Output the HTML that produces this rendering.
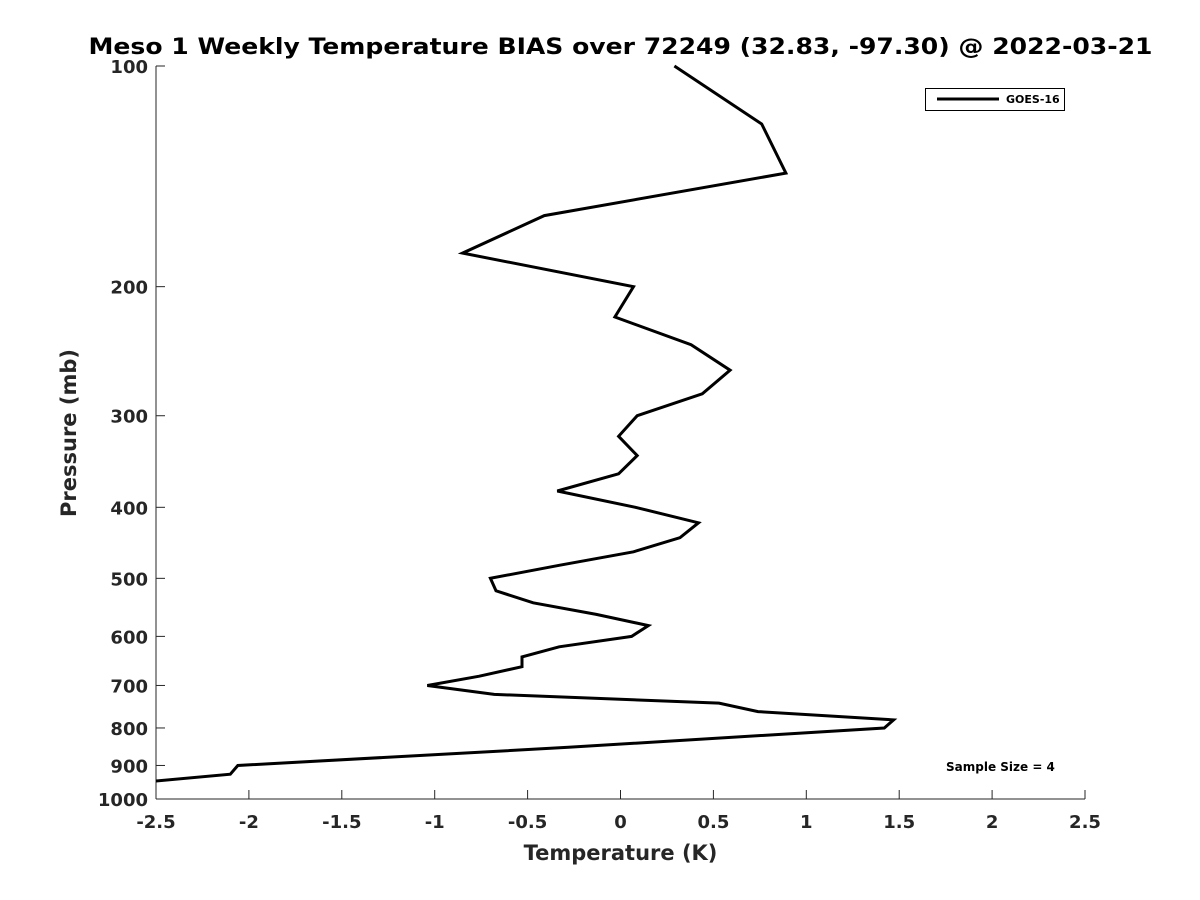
<!DOCTYPE html>
<html><head><meta charset="utf-8"><style>
body{margin:0;background:#fff}
svg{display:block;font-family:"DejaVu Sans","Liberation Sans",sans-serif;font-weight:bold}
</style></head><body>
<svg id="chart" width="1200" height="900">
<text x="620.5" y="54" text-anchor="middle" font-size="22" textLength="1064" lengthAdjust="spacingAndGlyphs" fill="#000">Meso 1 Weekly Temperature BIAS over 72249 (32.83, -97.30) @ 2022-03-21</text>
<g id="axes"></g>
<g id="series"></g>
<text x="620.5" y="860" text-anchor="middle" font-size="21" fill="#262626">Temperature (K)</text>
<text transform="translate(76,433) rotate(-90)" text-anchor="middle" font-size="21" fill="#262626">Pressure (mb)</text>
<g>
<rect x="925.5" y="88.5" width="139" height="22" fill="#fff" stroke="#000" stroke-width="1"/>
<line x1="937" y1="99" x2="999" y2="99" stroke="#000" stroke-width="3"/>
<text x="1006" y="103" font-size="11" fill="#000">GOES-16</text>
</g>
<text x="946" y="771" font-size="12" fill="#000">Sample Size = 4</text>
</svg>
<script>
const pressures=[100,120,140,160,180,200,220,240,260,280,300,320,340,360,380,400,420,440,460,480,500,520,540,560,580,600,620,640,660,680,700,720,740,760,780,800,850,900,925,950];
const bias=[0.29,0.76,0.89,-0.41,-0.85,0.07,-0.03,0.38,0.59,0.44,0.09,-0.01,0.09,-0.01,-0.34,0.08,0.42,0.32,0.07,-0.33,-0.70,-0.67,-0.47,-0.13,0.15,0.06,-0.33,-0.53,-0.53,-0.76,-1.04,-0.68,0.53,0.74,1.47,1.42,-0.28,-2.06,-2.10,-2.60];
const xTicks=[-2.5,-2,-1.5,-1,-0.5,0,0.5,1,1.5,2,2.5];
const xTickLabels=["-2.5","-2","-1.5","-1","-0.5","0","0.5","1","1.5","2","2.5"];
const yTicks=[100,200,300,400,500,600,700,800,900,1000];
const yTickLabels=["100","200","300","400","500","600","700","800","900","1000"];
const L=156,R=1085,T=66,B=799;
const xs=v=>L+(v+2.5)/5*(R-L);
const ys=p=>T+Math.log10(p/100)*(B-T);
const NS="http://www.w3.org/2000/svg";
const ax=document.getElementById('axes');
function mk(tag,attrs,parent){const e=document.createElementNS(NS,tag);for(const k in attrs)e.setAttribute(k,attrs[k]);parent.appendChild(e);return e;}
const yl=mk('line',{x1:L,y1:T,x2:L,y2:B,stroke:'#262626','stroke-width':1},ax);


const xl=mk('line',{x1:L,y1:B,x2:R,y2:B,stroke:'#262626','stroke-width':1},ax);


xTicks.forEach((v,i)=>{const x=xs(v);
const t=mk('line',{x1:x,y1:B,x2:x,y2:B-9,stroke:'#262626'},ax);


const tx=mk('text',{x:x,y:B+29,'text-anchor':'middle','font-size':18,fill:'#262626'},ax);
tx.textContent=xTickLabels[i];

});
yTicks.forEach((p,i)=>{const y=ys(p);
const t=mk('line',{x1:L,y1:y,x2:L+9,y2:y,stroke:'#262626'},ax);


const tx=mk('text',{x:L-8,y:y+7,'text-anchor':'end','font-size':18,fill:'#262626'},ax);
tx.textContent=yTickLabels[i];

});
const sg=document.getElementById('series');
const cp=mk('clipPath',{id:'clip'},sg);mk('rect',{x:L,y:T-2,width:R-L,height:B-T+4},cp);
const d=pressures.map((p,i)=>(i?'L':'M')+xs(bias[i]).toFixed(1)+','+ys(p).toFixed(1)).join(' ');
const path=mk('path',{d:d,fill:'none',stroke:'#000','stroke-width':3,'stroke-linejoin':'miter','clip-path':'url(#clip)'},sg);


</script>
</body></html>
